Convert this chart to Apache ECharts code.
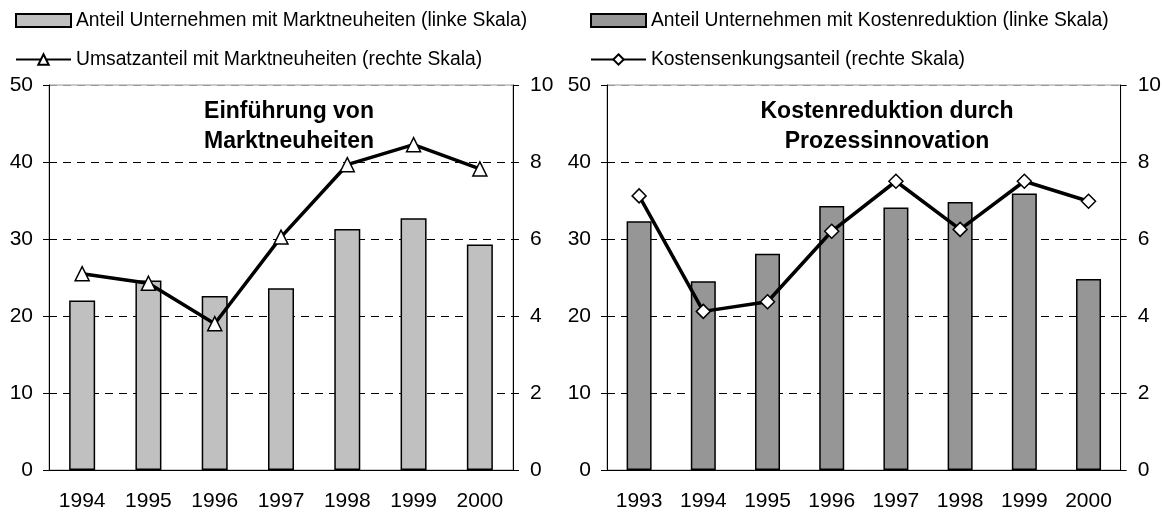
<!DOCTYPE html>
<html>
<head>
<meta charset="utf-8">
<script src="https://cdn.jsdelivr.net/npm/echarts@6/dist/echarts.min.js"></script>
<style>
  html, body { margin: 0; padding: 0; background: #fff; }
  #chart { width: 1164px; height: 513px; }
</style>
</head>
<body>
<div id="chart"></div>
<script>
// linke Grafik: Marktneuheiten
const yearsNeu = ['1994', '1995', '1996', '1997', '1998', '1999', '2000'];
const anteilNeu = [22.0, 24.6, 22.6, 23.6, 31.3, 32.7, 29.3];
const umsatzNeu = [5.1, 4.85, 3.8, 6.05, 7.93, 8.45, 7.82];

// rechte Grafik: Kostenreduktion
const yearsKost = ['1993', '1994', '1995', '1996', '1997', '1998', '1999', '2000'];
const anteilKost = [32.3, 24.5, 28.1, 34.3, 34.1, 34.8, 35.9, 24.8];
const senkungKost = [7.12, 4.12, 4.37, 6.2, 7.5, 6.25, 7.5, 6.98];

const leftTicks = [0, 10, 20, 30, 40, 50];
const rightTicks = [0, 2, 4, 6, 8, 10];

const FONT = '"Liberation Sans", Arial, sans-serif';
const labelStyle = {color: '#000', fontSize: 21, fontFamily: FONT};

function leftAxis(grid) {
    return {
        type: 'value', gridIndex: grid, min: leftTicks[0], max: leftTicks[leftTicks.length - 1], interval: 10,
        axisLine: {show: true, lineStyle: {color: '#000', width: 1}},
        axisTick: {show: true, inside: false, length: 6, lineStyle: {color: '#000'}},
        axisLabel: Object.assign({margin: 16}, labelStyle),
        splitLine: {
            show: true,
            lineStyle: {color: ['#000', '#000', '#000', '#000', '#000', '#999'], type: [8, 6], width: 1}
        }
    };
}
function rightAxis(grid) {
    return {
        type: 'value', gridIndex: grid, position: 'right', min: rightTicks[0], max: rightTicks[rightTicks.length - 1], interval: 2,
        axisLine: {show: true, lineStyle: {color: '#000', width: 1}},
        axisTick: {show: true, inside: false, length: 6, lineStyle: {color: '#000'}},
        axisLabel: Object.assign({margin: 17}, labelStyle),
        splitLine: {show: false}
    };
}
function catAxis(grid, data) {
    return {
        type: 'category', gridIndex: grid, data: data,
        axisLine: {show: true, lineStyle: {color: '#000', width: 1}},
        axisTick: {show: false},
        axisLabel: Object.assign({margin: 21}, labelStyle)
    };
}
function legendAt(name, left, top, icon, padBottom) {
    let lg = {
        data: [name], left: left, top: top, itemWidth: 55, itemHeight: 13, itemGap: 0,
        selectedMode: false,
        textStyle: {color: '#000', fontSize: 19.3, fontFamily: FONT, padding: [0, 0, padBottom, 0]}
    };
    if (icon) lg.icon = icon;
    return lg;
}

const lineStyleCommon = {color: '#000', width: 3.5};
const markerStyle = {color: '#fff', borderColor: '#000', borderWidth: 1.5};
const titleStyle = {fontSize: 23, fontWeight: 'bold', fontFamily: FONT, color: '#000', lineHeight: 30, align: 'center'};

let myChart = echarts.init(document.getElementById('chart'));
myChart.setOption({
    animation: false,
    backgroundColor: '#fff',
    title: [
        {text: 'Einführung von\nMarktneuheiten', left: 284, top: 92, textAlign: 'center', textStyle: titleStyle},
        {text: 'Kostenreduktion durch\nProzessinnovation', left: 882, top: 92, textAlign: 'center', textStyle: titleStyle}
    ],
    legend: [
        legendAt('Anteil Unternehmen mit Marktneuheiten (linke Skala)', 10, 6, 'rect', 8),
        legendAt('Umsatzanteil mit Marktneuheiten (rechte Skala)', 10, 45, null, 6),
        legendAt('Anteil Unternehmen mit Kostenreduktion (linke Skala)', 585, 6, 'rect', 8),
        legendAt('Kostensenkungsanteil (rechte Skala)', 585, 45, null, 6)
    ],
    grid: [
        {left: 49, right: 1164 - 513, top: 85, bottom: 513 - 470, show: true, borderColor: '#999', borderWidth: 1},
        {left: 607, right: 1164 - 1122, top: 85, bottom: 513 - 470, show: true, borderColor: '#999', borderWidth: 1}
    ],
    xAxis: [catAxis(0, yearsNeu), catAxis(1, yearsKost)],
    yAxis: [leftAxis(0), rightAxis(0), leftAxis(1), rightAxis(1)],
    series: [
        {
            name: 'Anteil Unternehmen mit Marktneuheiten (linke Skala)', type: 'bar',
            xAxisIndex: 0, yAxisIndex: 0, barWidth: 26, data: anteilNeu,
            itemStyle: {color: '#c0c0c0', borderColor: '#000', borderWidth: 1.5}
        },
        {
            name: 'Umsatzanteil mit Marktneuheiten (rechte Skala)', type: 'line',
            xAxisIndex: 0, yAxisIndex: 1, data: umsatzNeu,
            symbol: 'triangle', symbolSize: 14, showAllSymbol: true,
            lineStyle: lineStyleCommon, itemStyle: markerStyle, z: 5
        },
        {
            name: 'Anteil Unternehmen mit Kostenreduktion (linke Skala)', type: 'bar',
            xAxisIndex: 1, yAxisIndex: 2, barWidth: 25, data: anteilKost,
            itemStyle: {color: '#969696', borderColor: '#000', borderWidth: 1.5}
        },
        {
            name: 'Kostensenkungsanteil (rechte Skala)', type: 'line',
            xAxisIndex: 1, yAxisIndex: 3, data: senkungKost,
            symbol: 'diamond', symbolSize: 14, showAllSymbol: true,
            lineStyle: lineStyleCommon, itemStyle: markerStyle, z: 5
        }
    ]
});
</script>
</body>
</html>
